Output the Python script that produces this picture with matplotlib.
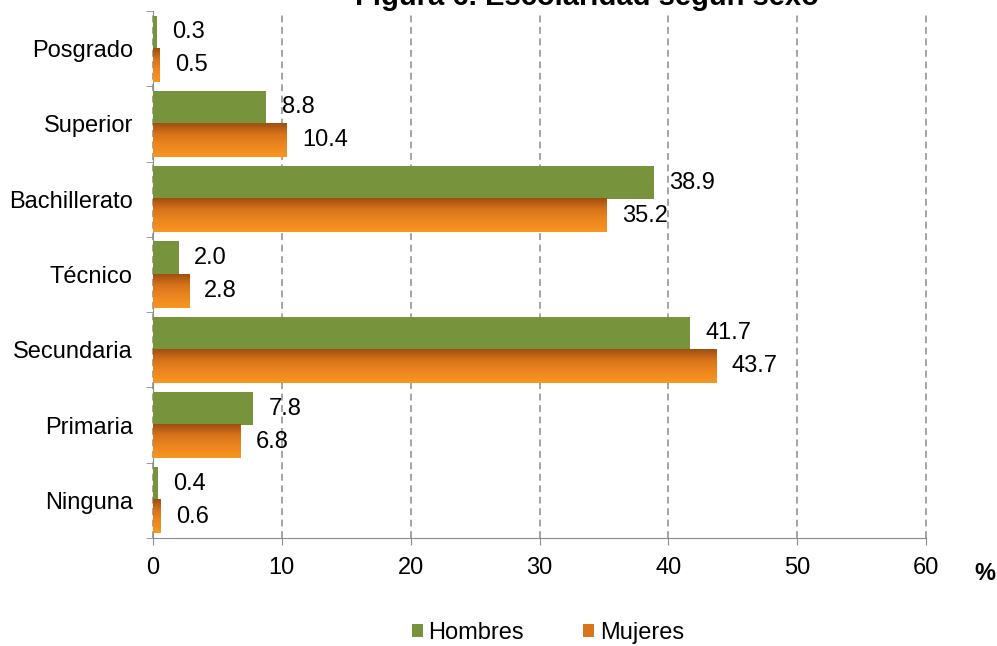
import numpy as np
import matplotlib.pyplot as plt
from matplotlib.colors import LinearSegmentedColormap
from matplotlib.patches import Patch

plt.rcParams['font.family'] = ['Liberation Sans', 'DejaVu Sans']

# datos
categorias = ['Ninguna', 'Primaria', 'Secundaria', 'Técnico', 'Bachillerato', 'Superior', 'Posgrado']
hombres = [0.4, 7.8, 41.7, 2.0, 38.9, 8.8, 0.3]
mujeres = [0.6, 6.8, 43.7, 2.8, 35.2, 10.4, 0.5]
xticks = [0, 10, 20, 30, 40, 50, 60]

verde = '#77933C'
naranja_cmap = LinearSegmentedColormap.from_list(
    'nar', ['#F9961F', '#EC8720', '#D8741A', '#9E4F10'])
fs = 17

fig = plt.figure(figsize=(9.97, 6.46), dpi=100)
ax = fig.add_axes([153 / 997, 1 - 538 / 646, (926 - 153) / 997, (538 - 11) / 646])

y = np.arange(len(categorias))
h = 0.44

ax.barh(y + h / 2, hombres, height=h, color=verde, zorder=3)

# barras de mujeres con degradado vertical
grad = np.linspace(0, 1, 100).reshape(-1, 1)
for yi, v in zip(y, mujeres):
    ax.imshow(grad, extent=[0, v, yi - h, yi], aspect='auto', cmap=naranja_cmap,
              origin='lower', zorder=3, interpolation='bilinear')

for yi, v in zip(y, hombres):
    ax.annotate(f'{v:.1f}', (v, yi + h / 2), xytext=(11, 0), textcoords='offset points',
                va='center', ha='left', fontsize=fs, zorder=4)
for yi, v in zip(y, mujeres):
    ax.annotate(f'{v:.1f}', (v, yi - h / 2), xytext=(11, 0), textcoords='offset points',
                va='center', ha='left', fontsize=fs, zorder=4)

ax.set_xlim(0, 60)
ax.set_ylim(-0.5, len(categorias) - 0.5)
ax.set_xticks(xticks)
ax.tick_params(axis='x', labelsize=fs, length=5, color='#8C8C8C', pad=8.5)
ax.set_yticks(y)
ax.set_yticklabels(categorias)
ax.tick_params(axis='y', which='major', length=0, labelsize=fs, pad=14.5)
ax.set_yticks(np.arange(-0.5, len(categorias), 1), minor=True)
ax.tick_params(axis='y', which='minor', length=5, color='#8C8C8C')

ax.grid(axis='x', linestyle=(0, (4.5, 3)), color='#8C8C8C', linewidth=1.1, zorder=0)
for gl in ax.get_xgridlines():
    gl.set_clip_on(False)
ax.set_axisbelow(True)
for s in ['top', 'right']:
    ax.spines[s].set_visible(False)
for s in ['left', 'bottom']:
    ax.spines[s].set_color('#8C8C8C')

fig.text(985 / 997, 1 - 574 / 646, '%', fontsize=fs, fontweight='bold', ha='center', va='center')
fig.text(587 / 997, 1 - 5 / 646, 'Figura 6. Escolaridad según sexo', fontsize=21,
         fontweight='bold', ha='center', va='baseline')

handles = [Patch(facecolor=verde), Patch(facecolor='#D8741A')]
fig.legend(handles, ['Hombres', 'Mujeres'], loc='center', bbox_to_anchor=(548 / 997, 1 - 633 / 646),
           ncol=2, frameon=False, fontsize=fs, handlelength=0.45, handleheight=0.45,
           handletextpad=0.25, columnspacing=2.5)

fig.savefig('out.png', dpi=100)
